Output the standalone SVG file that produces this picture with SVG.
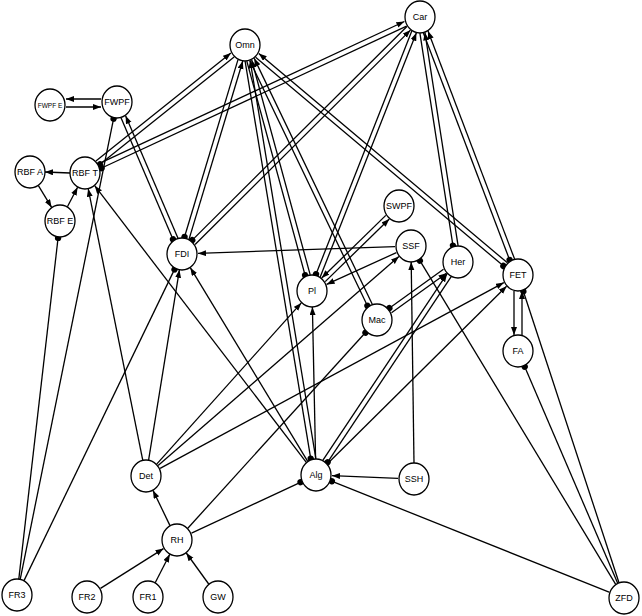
<svg xmlns="http://www.w3.org/2000/svg" width="642" height="616" viewBox="0 0 642 616">
<style>
.n ellipse{fill:#fff;stroke:#000;stroke-width:1.3}
.n text{font-family:"Liberation Sans",Arial,sans-serif;font-size:9px;text-anchor:middle;dominant-baseline:central;fill:#000}
.e line{stroke:#000;stroke-width:1.3}
.a{marker-end:url(#ar)}
.d{marker-end:url(#dt)}
</style>
<defs>
<marker id="ar" markerUnits="userSpaceOnUse" markerWidth="9" markerHeight="7" refX="8" refY="3" orient="auto"><path d="M0,0 L8,3 L0,6 z" fill="#000"/></marker>
<marker id="dt" markerUnits="userSpaceOnUse" markerWidth="8" markerHeight="8" refX="5" refY="4" orient="auto"><circle cx="4" cy="4" r="3.2" fill="#000"/></marker>
</defs>
<rect width="642" height="616" fill="#fff"/>
<g id="connectors" class="e">
<line class="a" x1="101" y1="99" x2="66" y2="99"/>
<line class="a" x1="66" y1="107" x2="101" y2="107"/>
<line class="a" x1="70" y1="173" x2="45" y2="172"/>
<line class="a" x1="38.4" y1="185.6" x2="51.6" y2="207.4"/>
<line class="a" x1="67.4" y1="206.8" x2="77.6" y2="187.2"/>
<line class="d" x1="18.8" y1="579.1" x2="58.2" y2="236.9"/>
<line class="d" x1="20.2" y1="579.3" x2="113.8" y2="117.7"/>
<line class="d" x1="24" y1="580.6" x2="175" y2="268.4"/>
<line class="a" x1="142.8" y1="460.3" x2="88.2" y2="188.7"/>
<line class="a" x1="148.6" y1="460.2" x2="179.4" y2="269.8"/>
<line class="a" x1="306.3" y1="462.3" x2="94.7" y2="185.7"/>
<line class="a" x1="307.7" y1="461.3" x2="190.3" y2="267.7"/>
<line class="a" x1="95.9" y1="161.1" x2="230.9" y2="53.1"/>
<line class="d" x1="234.1" y1="57" x2="99.1" y2="165"/>
<line class="a" x1="98.4" y1="163.9" x2="404.4" y2="21.5"/>
<line class="d" x1="406.6" y1="26.1" x2="100.6" y2="168.5"/>
<line class="d" x1="121" y1="117.7" x2="173.4" y2="240.3"/>
<line class="a" x1="178" y1="238.3" x2="125.6" y2="115.7"/>
<line class="d" x1="238" y1="59.6" x2="184.2" y2="238"/>
<line class="a" x1="189" y1="239.4" x2="242.8" y2="61"/>
<line class="d" x1="406.9" y1="26.5" x2="191.5" y2="240.9"/>
<line class="a" x1="195.1" y1="244.5" x2="410.5" y2="30.1"/>
<line class="a" x1="395" y1="246.6" x2="198" y2="253.4"/>
<line class="d" x1="246.8" y1="61.1" x2="305.4" y2="276.3"/>
<line class="a" x1="310.2" y1="274.9" x2="251.6" y2="59.7"/>
<line class="d" x1="411.8" y1="31" x2="315.6" y2="275.2"/>
<line class="a" x1="320.2" y1="277" x2="416.4" y2="32.8"/>
<line class="d" x1="245.1" y1="61.2" x2="310.9" y2="459.6"/>
<line class="a" x1="315.9" y1="458.8" x2="250.1" y2="60.4"/>
<line class="d" x1="249.7" y1="60.5" x2="367.9" y2="306.7"/>
<line class="a" x1="372.4" y1="304.5" x2="254.2" y2="58.3"/>
<line class="d" x1="255.6" y1="57.2" x2="504.2" y2="266.6"/>
<line class="a" x1="507.4" y1="262.8" x2="258.8" y2="53.4"/>
<line class="d" x1="419.9" y1="33.2" x2="453.1" y2="246.6"/>
<line class="a" x1="458.1" y1="245.8" x2="424.9" y2="32.4"/>
<line class="d" x1="423.4" y1="32.9" x2="510" y2="260.9"/>
<line class="a" x1="514.6" y1="259.1" x2="428" y2="31.1"/>
<line class="a" x1="385.8" y1="215.4" x2="321.7" y2="278"/>
<line class="a" x1="325.2" y1="281.6" x2="389.3" y2="219"/>
<line class="a" x1="396.4" y1="252.6" x2="326.6" y2="284.4"/>
<line class="a" x1="158.1" y1="465.5" x2="398.9" y2="256.5"/>
<line class="a" x1="156.7" y1="464.1" x2="301.3" y2="302.9"/>
<line class="a" x1="160.1" y1="468.4" x2="503.9" y2="282.6"/>
<line class="d" x1="443.5" y1="269.3" x2="388.5" y2="308.7"/>
<line class="a" x1="391.5" y1="312.7" x2="446.5" y2="273.3"/>
<line class="a" x1="322.8" y1="460.3" x2="447" y2="273.9"/>
<line class="d" x1="451.2" y1="276.7" x2="327" y2="463.1"/>
<line class="a" x1="327.4" y1="463.7" x2="506.6" y2="286.2"/>
<line class="a" x1="315.6" y1="459" x2="312.4" y2="307"/>
<line class="a" x1="414" y1="463" x2="411.2" y2="262"/>
<line class="a" x1="398" y1="478.3" x2="332" y2="475.7"/>
<line class="d" x1="615.7" y1="584.3" x2="419.3" y2="259.7"/>
<line class="d" x1="617.7" y1="583.3" x2="524.3" y2="365.7"/>
<line class="d" x1="619" y1="582.8" x2="523" y2="290.2"/>
<line class="d" x1="609.1" y1="592.1" x2="330.9" y2="480.9"/>
<line class="a" x1="514" y1="291" x2="514" y2="335"/>
<line class="a" x1="522" y1="335" x2="522" y2="291"/>
<line class="a" x1="170" y1="525.6" x2="153" y2="490.4"/>
<line class="d" x1="191.5" y1="533.2" x2="301.5" y2="481.8"/>
<line class="d" x1="187.8" y1="528.2" x2="366.2" y2="331.8"/>
<line class="a" x1="100.5" y1="588.4" x2="163.5" y2="548.6"/>
<line class="a" x1="155.2" y1="582.7" x2="169.8" y2="554.3"/>
<line class="a" x1="208.7" y1="584" x2="186.3" y2="553"/>
</g>
<g id="Omn" class="n"><ellipse cx="245" cy="45" rx="15" ry="16"/><text x="245" y="45">Omn</text></g>
<g id="Car" class="n"><ellipse cx="420" cy="17" rx="15" ry="16"/><text x="420" y="17">Car</text></g>
<g id="FWPF_E" class="n"><ellipse cx="50" cy="105" rx="15" ry="16"/><text x="50" y="105" style="font-size:6.5px">FWPF E</text></g>
<g id="FWPF" class="n"><ellipse cx="117" cy="102" rx="15" ry="16"/><text x="117" y="102">FWPF</text></g>
<g id="RBF_A" class="n"><ellipse cx="30" cy="172" rx="15" ry="16"/><text x="30" y="172">RBF A</text></g>
<g id="RBF_T" class="n"><ellipse cx="85" cy="173" rx="15" ry="16"/><text x="85" y="173">RBF T</text></g>
<g id="RBF_E" class="n"><ellipse cx="60" cy="221" rx="15" ry="16"/><text x="60" y="221">RBF E</text></g>
<g id="FDI" class="n"><ellipse cx="182" cy="254" rx="15" ry="16"/><text x="182" y="254">FDI</text></g>
<g id="Pl" class="n"><ellipse cx="312" cy="291" rx="15" ry="16"/><text x="312" y="291">Pl</text></g>
<g id="SWPF" class="n"><ellipse cx="399" cy="206" rx="15" ry="16"/><text x="399" y="206">SWPF</text></g>
<g id="SSF" class="n"><ellipse cx="411" cy="246" rx="15" ry="16"/><text x="411" y="246">SSF</text></g>
<g id="Her" class="n"><ellipse cx="458" cy="262" rx="15" ry="16"/><text x="458" y="262">Her</text></g>
<g id="FET" class="n"><ellipse cx="518" cy="275" rx="15" ry="16"/><text x="518" y="275">FET</text></g>
<g id="Mac" class="n"><ellipse cx="377" cy="320" rx="15" ry="16"/><text x="377" y="320">Mac</text></g>
<g id="FA" class="n"><ellipse cx="518" cy="351" rx="15" ry="16"/><text x="518" y="351">FA</text></g>
<g id="Det" class="n"><ellipse cx="146" cy="476" rx="15" ry="16"/><text x="146" y="476">Det</text></g>
<g id="Alg" class="n"><ellipse cx="316" cy="475" rx="15" ry="16"/><text x="316" y="475">Alg</text></g>
<g id="SSH" class="n"><ellipse cx="414" cy="479" rx="15" ry="16"/><text x="414" y="479">SSH</text></g>
<g id="RH" class="n"><ellipse cx="177" cy="540" rx="15" ry="16"/><text x="177" y="540">RH</text></g>
<g id="FR3" class="n"><ellipse cx="17" cy="595" rx="15" ry="16"/><text x="17" y="595">FR3</text></g>
<g id="FR2" class="n"><ellipse cx="87" cy="597" rx="15" ry="16"/><text x="87" y="597">FR2</text></g>
<g id="FR1" class="n"><ellipse cx="148" cy="597" rx="15" ry="16"/><text x="148" y="597">FR1</text></g>
<g id="GW" class="n"><ellipse cx="218" cy="597" rx="15" ry="16"/><text x="218" y="597">GW</text></g>
<g id="ZFD" class="n"><ellipse cx="624" cy="598" rx="15" ry="16"/><text x="624" y="598">ZFD</text></g>
</svg>
